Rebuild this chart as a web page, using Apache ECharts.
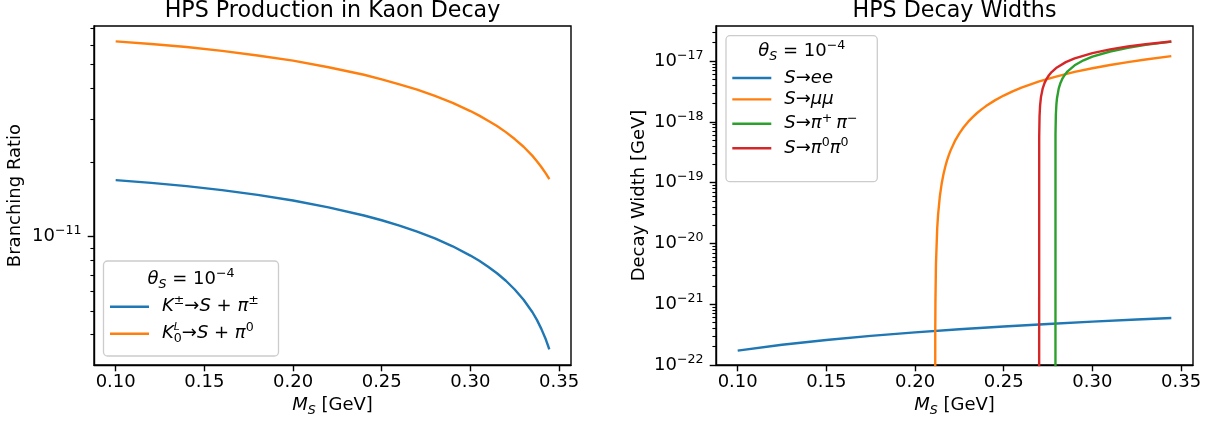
<!DOCTYPE html>
<html><head><meta charset="utf-8">
<script src="https://cdn.jsdelivr.net/npm/echarts@6/dist/echarts.min.js"></script>
<style>html,body{margin:0;padding:0;background:#fff}#c{width:1213px;height:423px}</style>
</head><body><div id="c"></div>
<script>
// ---------- Left panel: HPS production in kaon decay ----------
const kaonMass   = [0.10,0.12,0.14,0.16,0.18,0.20,0.22,0.24,0.25,0.26,0.27,0.28,0.29,0.30,0.305,0.31,0.315,0.32,0.325,0.33,0.335,0.3375,0.34,0.3425,0.343,0.344,0.3445];
const brKcharged = [1.697e-11,1.655e-11,1.605e-11,1.546e-11,1.479e-11,1.403e-11,1.316e-11,1.219e-11,1.166e-11,1.109e-11,1.048e-11,9.84e-12,9.14e-12,8.38e-12,7.98e-12,7.55e-12,7.10e-12,6.62e-12,6.10e-12,5.54e-12,4.93e-12,4.59e-12,4.22e-12,3.83e-12,3.74e-12,3.57e-12,3.48e-12];
const brKlong    = [6.22e-11,6.07e-11,5.90e-11,5.69e-11,5.45e-11,5.19e-11,4.88e-11,4.55e-11,4.36e-11,4.16e-11,3.96e-11,3.73e-11,3.50e-11,3.24e-11,3.105e-11,2.96e-11,2.815e-11,2.66e-11,2.493e-11,2.32e-11,2.13e-11,2.027e-11,1.92e-11,1.809e-11,1.787e-11,1.739e-11,1.715e-11];

// ---------- Right panel: HPS decay widths ----------
const eeMass   = [0.10,0.125,0.15,0.175,0.20,0.225,0.25,0.275,0.30,0.325,0.3445];
const eeWidth  = [1.72e-22,2.15e-22,2.58e-22,3.01e-22,3.44e-22,3.87e-22,4.30e-22,4.73e-22,5.16e-22,5.59e-22,5.93e-22];
const muMass   = [0.21132,0.2114,0.2115,0.2118,0.2125,0.213,0.214,0.215,0.216,0.217,0.218,0.219,0.22,0.2225,0.225,0.2275,0.23,0.2325,0.235,0.2375,0.24,0.245,0.25,0.255,0.26,0.27,0.28,0.29,0.30,0.31,0.32,0.33,0.3445];
const muWidth  = [1e-30,3.3e-22,1.08e-21,4.6e-21,1.77e-20,2.99e-20,5.98e-20,9.56e-20,1.36e-19,1.81e-19,2.30e-19,2.81e-19,3.36e-19,4.85e-19,6.47e-19,8.21e-19,1.005e-18,1.197e-18,1.397e-18,1.604e-18,1.815e-18,2.254e-18,2.705e-18,3.175e-18,3.65e-18,4.62e-18,5.61e-18,6.62e-18,7.62e-18,8.62e-18,9.62e-18,1.062e-17,1.205e-17];
const piChMass  = [0.27914,0.2792,0.2794,0.2797,0.280,0.281,0.282,0.283,0.2845,0.286,0.29,0.295,0.30,0.31,0.32,0.33,0.3445];
const piChWidth = [1e-30,6.3e-19,1.32e-18,1.93e-18,2.39e-18,3.52e-18,4.36e-18,5.07e-18,5.97e-18,6.76e-18,8.50e-18,1.028e-17,1.179e-17,1.434e-17,1.651e-17,1.843e-17,2.09e-17];
const pi0Mass   = [0.26995,0.2700,0.2702,0.2705,0.271,0.272,0.273,0.274,0.2755,0.277,0.28,0.285,0.29,0.30,0.31,0.32,0.33,0.3445];
const pi0Width  = [1e-30,5.55e-19,1.24e-18,1.84e-18,2.55e-18,3.56e-18,4.33e-18,4.99e-18,5.84e-18,6.58e-18,7.85e-18,9.59e-18,1.105e-17,1.349e-17,1.553e-17,1.731e-17,1.892e-17,2.10e-17];

// ---------- Ticks ----------
const xTicks = [0.10,0.15,0.20,0.25,0.30,0.35];
const leftMajorTicks  = [1e-11];
const rightMajorTicks = [1e-22,1e-21,1e-20,1e-19,1e-18,1e-17];

// ---------- Texts ----------
const titles = ['HPS Production in Kaon Decay','HPS Decay Widths'];
const yNames = ['Branching Ratio','Decay Width [GeV]'];
const xName = '{it|M}{subi|S}{n| [GeV]}';
const legendTitle = '{it|θ}{subi|S}{n| = 10}{sup|−4}';
const leftNames  = ['K±→S+π±','K0L→S+π0'];
const leftLabels = ['{it|K}{sup|±}{n|→}{it|S}{n| + }{it|π}{sup|±}', '{it|K}{supz|L}{sub|0}{n|→}{it|S}{n| + }{it|π}{sup|0}'];
const rightNames  = ['S→ee','S→μμ','S→π+π−','S→π0π0'];
const rightLabels = ['{it|S}{n|→}{it|ee}','{it|S}{n|→}{it|μμ}','{it|S}{n|→}{it|π}{sup|+ }{it|π}{sup|−}','{it|S}{n|→}{it|π}{sup|0}{it|π}{sup|0}'];

const colors = ['#1f77b4','#ff7f0e','#2ca02c','#d62728'];
const FONT = 'DejaVu Sans';
const FS = 18, FSS = 12.6, LH = 24, TFS = 22.2;
const rich = {
  n:   {fontFamily:FONT,fontSize:FS,lineHeight:LH,color:'#000'},
  it:  {fontFamily:FONT,fontSize:FS,fontStyle:'italic',lineHeight:LH,color:'#000'},
  sup: {fontFamily:FONT,fontSize:FSS,lineHeight:12.6,verticalAlign:'top',color:'#000'},
  supz:{fontFamily:FONT,fontSize:FSS*0.85,fontStyle:'italic',lineHeight:12.6,verticalAlign:'top',width:0,color:'#000'},
  sub: {fontFamily:FONT,fontSize:FSS,lineHeight:16,verticalAlign:'bottom',color:'#000'},
  subi:{fontFamily:FONT,fontSize:FSS,fontStyle:'italic',lineHeight:16,verticalAlign:'bottom',color:'#000'}
};

function minorTicks(lo, hi){ const out=[]; for(let e=lo;e<=hi;e++){ for(let k=2;k<=9;k++) out.push(k*Math.pow(10,e)); } return out; }
const pow10Label = v => '{n|10}{sup|−' + Math.abs(Math.round(Math.log10(v))) + '}';

const SW = 1.4;
const grids = [
  {left:94, right:642, top:26, bottom:58, show:true, borderColor:'#000', borderWidth:SW},
  {left:716, right:20, top:26, bottom:58, show:true, borderColor:'#000', borderWidth:SW}
];
function xAxisFor(g){
  return {type:'value', gridIndex:g, min:0.087775, max:0.356725,
    axisLine:{show:true, onZero:false, lineStyle:{color:'#000', width:SW}},
    axisTick:{show:true, customValues:xTicks, length:6.3, lineStyle:{color:'#000', width:SW}},
    axisLabel:{customValues:xTicks, formatter:v=>v.toFixed(2), fontFamily:FONT, fontSize:FS, color:'#000', margin:8},
    splitLine:{show:false},
    name:xName, nameLocation:'middle', nameGap:28.5, nameTextStyle:{fontFamily:FONT, fontSize:FS, color:'#000', rich:rich}};
}
function yAxisMajor(g, min, max, ticks, name, gap){
  return {type:'log', logBase:10, gridIndex:g, position:'left', min:min, max:max,
    axisLine:{show:true, onZero:false, lineStyle:{color:'#000', width:SW}},
    axisTick:{show:true, customValues:ticks, length:6.3, lineStyle:{color:'#000', width:SW}},
    axisLabel:{customValues:ticks, formatter:pow10Label, fontFamily:FONT, fontSize:FS, color:'#000', margin:12.5, rich:rich},
    splitLine:{show:false}, minorTick:{show:false},
    name:name, nameLocation:'middle', nameRotate:90, nameGap:gap, nameTextStyle:{fontFamily:FONT, fontSize:FS, color:'#000'}};
}
function yAxisMinor(g, min, max, ticks){
  return {type:'log', logBase:10, gridIndex:g, position:'left', offset:0, min:min, max:max,
    axisLine:{show:false}, axisLabel:{show:false}, splitLine:{show:false},
    axisTick:{show:true, customValues:ticks, length:3.6, lineStyle:{color:'#000', width:1.1}}};
}
const LMIN = 3.01e-12, LMAX = 7.18e-11, RMIN = 1e-22, RMAX = 3.77e-17;

function lineSeries(name, xi, yi, xs, ys, color){
  return {type:'line', name:name, xAxisIndex:xi, yAxisIndex:yi, data:xs.map((x,i)=>[x, ys[i]]),
    symbol:'none', showSymbol:false, clip:true, lineStyle:{width:2.4, color:color, join:'round', cap:'butt'}, itemStyle:{color:color}};
}
function legendFor(names, labels, left, top, gap){
  return {data:names, orient:'vertical', left:left, top:top, padding:0, itemWidth:39, itemHeight:2.4, icon:'rect',
    itemGap:gap, selectedMode:false, formatter:n=>labels[names.indexOf(n)],
    textStyle:{fontFamily:FONT, fontSize:FS, color:'#000', padding:[0,0,0,8], rich:rich}};
}
function gText(txt, x, y, size, withRich){
  const st = {text:txt, x:x, y:y, fill:'#000', font: size + 'px "' + FONT + '"', align:'center', verticalAlign:'middle', textAlign:'center', textVerticalAlign:'middle'};
  if (withRich) st.rich = rich;
  return {type:'text', z:20, style:st};
}

const option = {
  animation:false,
  backgroundColor:'#fff',
  grid:grids,
  xAxis:[xAxisFor(0), xAxisFor(1)],
  yAxis:[
    yAxisMajor(0, LMIN, LMAX, leftMajorTicks, yNames[0], 69.5),
    yAxisMinor(0, LMIN, LMAX, minorTicks(-12,-11)),
    yAxisMajor(1, RMIN, RMAX, rightMajorTicks, yNames[1], 67.5),
    yAxisMinor(1, RMIN, RMAX, minorTicks(-22,-17))
  ],
  legend:[
    legendFor(leftNames, leftLabels, 110, 294.7, 6),
    legendFor(rightNames, rightLabels, 732.3, 69, 3.4)
  ],
  graphic:[
    {type:'rect', z:1, shape:{x:103.5, y:261, width:175, height:95, r:4}, style:{fill:'rgba(255,255,255,0.8)', stroke:'#cccccc', lineWidth:1.3}},
    {type:'rect', z:1, shape:{x:726, y:35.7, width:151.3, height:146, r:4}, style:{fill:'rgba(255,255,255,0.8)', stroke:'#cccccc', lineWidth:1.3}},
    gText(legendTitle, 191, 279, FS, true),
    gText(legendTitle, 801.7, 51.7, FS, true),
    gText(titles[0], 332.5, 11, TFS, false),
    gText(titles[1], 954.5, 11, TFS, false)
  ],
  series:[
    lineSeries(leftNames[0], 0, 0, kaonMass, brKcharged, colors[0]),
    lineSeries(leftNames[1], 0, 0, kaonMass, brKlong, colors[1]),
    lineSeries(rightNames[0], 1, 2, eeMass, eeWidth, colors[0]),
    lineSeries(rightNames[1], 1, 2, muMass, muWidth, colors[1]),
    lineSeries(rightNames[2], 1, 2, piChMass, piChWidth, colors[2]),
    lineSeries(rightNames[3], 1, 2, pi0Mass, pi0Width, colors[3])
  ]
};
const chart = echarts.init(document.getElementById('c'), null, {renderer:'canvas'});
chart.setOption(option);
</script>
</body></html>
